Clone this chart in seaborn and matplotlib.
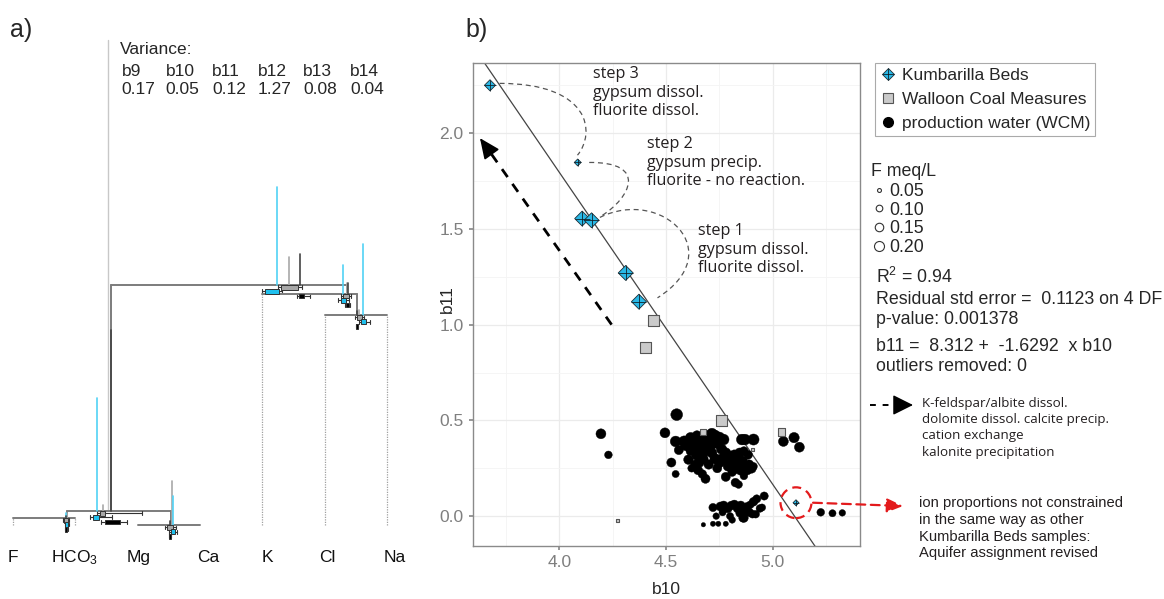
import numpy as np
import pandas as pd
import matplotlib
matplotlib.use("Agg")
import matplotlib.pyplot as plt
import seaborn as sns
from matplotlib.lines import Line2D
from matplotlib.patches import Ellipse, PathPatch
from matplotlib.path import Path

sns.set_theme(style="white")
plt.rcParams["font.family"] = ["Liberation Sans", "DejaVu Sans"]
plt.rcParams["mathtext.fontset"] = "custom"
plt.rcParams["mathtext.rm"] = "Liberation Sans"
plt.rcParams["mathtext.default"] = "regular"

# ---------------- panel a: balance dendrogram ----------------
leaves = ["F", "HCO$_3$", "Mg", "Ca", "K", "Cl", "Na"]
leaf_label_pos = [0.0, 0.98, 2.02, 3.13, 4.08, 5.04, 6.12]
balances = ["b9", "b10", "b11", "b12", "b13", "b14"]
variances = [0.17, 0.05, 0.12, 1.27, 0.08, 0.04]
tree = {"b9": ("b12", "b10"), "b12": ("b14", "b13"), "b14": (0, 1),
        "b13": (2, 3), "b10": (4, "b11"), "b11": (5, 6)}
mean_pos = {"b9": 4.43, "b12": 1.573, "b14": 0.867, "b13": 2.536,
            "b10": 5.361, "b11": 5.522}

groups = ["WCM", "KB", "PW"]
# group boxplots of each balance: (low whisker, q1, median, q3, high whisker)
box_stats = {
    "b9":  {"WCM": (4.254, 4.302, 4.430, 4.575, 4.639), "KB": (3.997, 4.045, 4.157, 4.270, 4.318), "PW": (4.559, 4.591, 4.623, 4.671, 4.767)},
    "b12": {"WCM": (1.348, 1.396, 1.445, 1.477, 2.071), "KB": (1.236, 1.279, 1.332, 1.376, 1.584), "PW": (1.412, 1.477, 1.589, 1.717, 1.830)},
    "b10": {"WCM": (5.265, 5.297, 5.345, 5.393, 5.425), "KB": (5.217, 5.265, 5.305, 5.345, 5.393), "PW": (5.329, 5.345, 5.369, 5.393, 5.409)},
    "b11": {"WCM": (5.490, 5.522, 5.570, 5.602, 5.634), "KB": (5.554, 5.586, 5.618, 5.666, 5.730), "PW": (5.498, 5.506, 5.522, 5.530, 5.538)},
    "b13": {"WCM": (2.440, 2.472, 2.520, 2.568, 2.616), "KB": (2.504, 2.536, 2.568, 2.600, 2.632), "PW": (2.496, 2.504, 2.520, 2.528, 2.536)},
    "b14": {"WCM": (0.803, 0.819, 0.851, 0.883, 0.899), "KB": (0.827, 0.835, 0.851, 0.875, 0.891), "PW": (0.827, 0.835, 0.851, 0.867, 0.875)},
}
# group mean position and group variance of each balance
group_var = {
    "b9":  {"KB": (4.24, 0.55), "WCM": (4.43, 0.153), "PW": (4.61, 0.17)},
    "b12": {"KB": (1.343, 0.635), "WCM": (1.45, 0.03), "PW": (1.58, 1.017)},
    "b10": {"KB": (5.30, 0.163), "WCM": (5.356, 0.062), "PW": (5.37, 0.06)},
    "b11": {"KB": (5.613, 0.40), "WCM": (5.56, 0.03), "PW": (5.52, 0.02)},
    "b13": {"KB": (2.573, 0.163), "WCM": (2.547, 0.247), "PW": (2.52, 0.02)},
    "b14": {"KB": (0.846, 0.03), "WCM": (0.86, 0.03), "PW": (0.851, 0.01)},
}

# ---------------- panel b: b10 vs b11 ----------------
kb_b10 = [3.675, 4.086, 4.107, 4.151, 4.311, 4.373, 5.109]
kb_b11 = [2.25, 1.847, 1.554, 1.545, 1.27, 1.12, 0.07]
kb_F = [0.12, 0.06, 0.20, 0.20, 0.20, 0.20, 0.05]

wcm_b10 = [4.44, 4.404, 4.761, 4.672, 5.04, 4.906, 4.273]
wcm_b11 = [1.02, 0.88, 0.50, 0.44, 0.44, 0.35, -0.025]
wcm_F = [0.20, 0.20, 0.20, 0.09, 0.11, 0.05, 0.05]

pw_b10 = [4.195, 4.23, 4.55, 4.495, 4.545, 4.56, 4.525, 4.545, 4.605, 4.62,
          4.585, 4.595, 4.615, 4.625, 4.635, 4.645, 4.645, 4.655, 4.66, 4.665,
          4.675, 4.68, 4.685, 4.695, 4.705, 4.715, 4.72, 4.73, 4.74, 4.75,
          4.76, 4.77, 4.635, 4.65, 4.67, 4.685, 4.655, 4.675, 4.715, 4.73,
          4.75, 4.765, 4.78, 4.785, 4.79, 4.80, 4.81, 4.82, 4.825, 4.83,
          4.84, 4.845, 4.85, 4.86, 4.87, 4.88, 4.89, 4.90, 4.91, 4.78,
          4.81, 4.825, 4.84, 4.865, 4.855, 4.87, 4.91, 4.885, 4.865, 4.74,
          4.70, 4.615, 5.05, 5.10, 5.125, 5.225, 5.28, 5.326,
          4.72, 4.735, 4.675, 4.72, 4.745, 4.78, 4.755, 4.77, 4.79, 4.805,
          4.82, 4.835, 4.85, 4.865, 4.88, 4.89, 4.895, 4.91, 4.925, 4.94,
          4.96, 4.905, 4.86, 4.80, 4.81, 4.845, 4.765, 4.92, 4.865, 4.95]
pw_b11 = [0.43, 0.32, 0.53, 0.435, 0.39, 0.345, 0.28, 0.22, 0.295, 0.25,
          0.39, 0.37, 0.41, 0.38, 0.35, 0.42, 0.32, 0.39, 0.36, 0.30,
          0.41, 0.34, 0.38, 0.42, 0.36, 0.43, 0.40, 0.42, 0.38, 0.41,
          0.35, 0.40, 0.27, 0.24, 0.22, 0.195, 0.28, 0.30, 0.33, 0.30,
          0.28, 0.30, 0.33, 0.29, 0.26, 0.31, 0.28, 0.32, 0.25, 0.30,
          0.27, 0.33, 0.24, 0.29, 0.26, 0.24, 0.27, 0.25, 0.26, 0.205,
          0.23, 0.175, 0.165, 0.21, 0.40, 0.40, 0.40, 0.32, 0.34, 0.25,
          0.27, 0.34, 0.39, 0.41, 0.36, 0.02, 0.015, 0.017,
          0.045, 0.00, -0.045, -0.04, -0.04, -0.04, 0.05, 0.055, 0.04, 0.055,
          0.06, 0.04, 0.055, 0.03, 0.05, 0.02, 0.06, 0.075, 0.09, 0.04,
          0.105, 0.01, -0.01, 0.00, -0.02, 0.015, 0.02, 0.01, -0.01, 0.045]
pw_F = [0.15, 0.10, 0.20, 0.15, 0.17, 0.13, 0.13, 0.09, 0.14, 0.10,
        0.18, 0.18, 0.16, 0.18, 0.17, 0.15, 0.18, 0.18, 0.18, 0.16,
        0.17, 0.18, 0.16, 0.15, 0.17, 0.18, 0.17, 0.18, 0.16, 0.18,
        0.16, 0.17, 0.12, 0.13, 0.12, 0.13, 0.15, 0.14, 0.15, 0.16,
        0.16, 0.17, 0.16, 0.16, 0.14, 0.17, 0.15, 0.15, 0.16, 0.14,
        0.16, 0.15, 0.15, 0.13, 0.16, 0.14, 0.13, 0.15, 0.10, 0.13,
        0.12, 0.12, 0.10, 0.10, 0.17, 0.17, 0.18, 0.12, 0.12, 0.13,
        0.14, 0.13, 0.15, 0.16, 0.15, 0.10, 0.09, 0.08,
        0.11, 0.08, 0.05, 0.06, 0.06, 0.06, 0.13, 0.13, 0.12, 0.12,
        0.13, 0.12, 0.13, 0.12, 0.11, 0.12, 0.10, 0.12, 0.11, 0.10,
        0.11, 0.10, 0.11, 0.09, 0.08, 0.10, 0.09, 0.10, 0.12, 0.09]

fit_intercept = 8.312
fit_slope = -1.6292
size_levels = [0.05, 0.10, 0.15, 0.20]
stats_lines = ["R$^2$ = 0.94", "Residual std error =  0.1123 on 4 DF",
               "p-value: 0.001378", "b11 =  8.312 +  -1.6292  x b10",
               "outliers removed: 0"]
outlier = (5.109, 0.07)

KB_COL = "#2ab8e6"
WCM_COL = "#cacaca"
BOX_FACE = {"WCM": "#a8a8a8", "KB": "#1fc0ee", "PW": "black"}
LINE_COL = {"WCM": "#a8a8a8", "KB": "#52d2f5", "PW": "#444444"}
BOX_OFF = {"WCM": 0.014, "KB": 0.037, "PW": 0.064}
PW_SIZES = (10, 72)

W, H = 1164, 599
fig = plt.figure(figsize=(W / 100, H / 100), dpi=100)


def fx(px):
    return px / W


def fy(py):
    return 1 - py / H


# ---------------- draw panel a ----------------
axa = fig.add_axes([0, 1 - 580 / H, 420 / W, 550 / H])
axa.set_xlim(-0.209, 6.533)
axa.set_ylim(-0.309, 2.781)
axa.axis("off")

var_of = dict(zip(balances, variances))


def depth(node):
    return max(var_of[c] + depth(c) if isinstance(c, str) else 0 for c in tree[node])


node_h = {}


def place(node, h):
    node_h[node] = h
    for c in tree[node]:
        if isinstance(c, str):
            place(c, h - var_of[c])


place("b9", depth("b9"))


def pos(c):
    return c if not isinstance(c, str) else mean_pos[c]


axa.plot([1.525, 1.525], [0.084, 2.725], color="#c8c8c8", lw=1)

BAR = "#7c7c7c"
for node, (l, r) in tree.items():
    h = node_h[node]
    axa.plot([pos(l), pos(r)], [h, h], color=BAR, lw=1.4, zorder=2)
    for c in (l, r):
        if isinstance(c, str):
            axa.plot([pos(c)] * 2, [node_h[c], h], color=BAR, lw=1.4, zorder=2)
        elif h > 0.001:
            axa.plot([c, c], [0, h], color="#a0a0a0", lw=0.9, ls=(0, (1, 1)), zorder=1)
    for g in groups:
        gp, gv = group_var[node][g]
        axa.plot([gp, gp], [h, h + gv], color=LINE_COL[g], lw=1.2, zorder=3)
    stats = []
    for g in groups:
        lo, q1, med, q3, hi = box_stats[node][g]
        stats.append(dict(whislo=lo, q1=q1, med=med, q3=q3, whishi=hi, fliers=[]))
    bp = axa.bxp(stats, positions=[h - BOX_OFF[g] for g in groups], widths=0.026,
                 orientation="horizontal", patch_artist=True, showfliers=False,
                 manage_ticks=False, capwidths=0.022,
                 whiskerprops=dict(color="#333333", lw=0.8),
                 capprops=dict(color="#333333", lw=0.8),
                 medianprops=dict(color="#222222", lw=0.8))
    for patch, g in zip(bp["boxes"], groups):
        patch.set_facecolor(BOX_FACE[g])
        patch.set_edgecolor("#333333")
        patch.set_linewidth(0.7)
        patch.set_zorder(4)

for xl, name in zip(leaf_label_pos, leaves):
    axa.text(xl, -0.185, name, ha="center", va="center", fontsize=12.5, color="#111111")

fig.text(fx(120), fy(42), "Variance:", fontsize=12.5, va="top", ha="left")
col_x = [121.7, 165.7, 212, 258, 303, 350]
for cx, b, v in zip(col_x, balances, variances):
    fig.text(fx(cx), fy(64), b, fontsize=12.5, va="top", ha="left")
    fig.text(fx(cx), fy(82), f"{v:.2f}", fontsize=12.5, va="top", ha="left")

fig.text(fx(10), fy(30), "a)", fontsize=18, va="center", ha="left")
fig.text(fx(465), fy(30), "b)", fontsize=18, va="center", ha="left")

# ---------------- draw panel b ----------------
ax = fig.add_axes([fx(472.7), fy(546), (860 - 472.7) / W, (546 - 62.7) / H])
ax.set_xlim(3.594, 5.409)
ax.set_ylim(-0.156, 2.368)
ax.set_xticks([4.0, 4.5, 5.0])
ax.set_xticklabels(["4.0", "4.5", "5.0"])
ax.set_yticks([0.0, 0.5, 1.0, 1.5, 2.0])
ax.set_yticklabels(["0.0", "0.5", "1.0", "1.5", "2.0"])
ax.set_xticks([3.75, 4.25, 4.75, 5.25], minor=True)
ax.set_yticks([0.25, 0.75, 1.25, 1.75, 2.25], minor=True)
ax.grid(which="major", color="#ebebeb", lw=0.9)
ax.grid(which="minor", color="#f4f4f4", lw=0.6)
ax.set_axisbelow(True)
for s in ax.spines.values():
    s.set_color("#8a8a8a")
    s.set_linewidth(1)
ax.tick_params(axis="both", which="major", labelsize=12.5, labelcolor="#7f7f7f",
               length=3, color="#8a8a8a", direction="out", bottom=True, left=True)
ax.tick_params(which="minor", length=0)
ax.set_xlabel("b10", fontsize=12.5)
ax.set_ylabel("b11", fontsize=12.5)
ax.xaxis.set_label_coords(0.5, -0.075)
ax.yaxis.set_label_coords(-0.045, 0.51)

xs = np.array(ax.get_xlim())
ax.plot(xs, fit_intercept + fit_slope * xs, color="#444444", lw=0.9, zorder=2)

pw = pd.DataFrame({"b10": pw_b10, "b11": pw_b11, "F": pw_F})
wcm = pd.DataFrame({"b10": wcm_b10, "b11": wcm_b11, "F": wcm_F})
kb = pd.DataFrame({"b10": kb_b10, "b11": kb_b11, "F": kb_F})

sns.scatterplot(data=pw, x="b10", y="b11", size="F", sizes=PW_SIZES, size_norm=(0.05, 0.2),
                color="black", edgecolor="black", linewidth=0.3, legend=False, ax=ax, zorder=3)
sns.scatterplot(data=wcm, x="b10", y="b11", size="F", sizes=(5, 63), size_norm=(0.05, 0.2),
                marker="s", color=WCM_COL, edgecolor="#555555", linewidth=0.8, legend=False,
                ax=ax, zorder=4)
sns.scatterplot(data=kb, x="b10", y="b11", size="F", sizes=(9, 58), size_norm=(0.05, 0.2),
                marker="D", color=KB_COL, edgecolor="#1b2b33", linewidth=0.6, legend=False,
                ax=ax, zorder=5)
plus_s = 2 * (9 + (kb["F"] - 0.05) / 0.15 * (58 - 9))
ax.scatter(kb["b10"], kb["b11"], s=plus_s, marker="+", c="#10222a", linewidths=0.6, zorder=6)
ax.set_xlim(3.594, 5.409)
ax.set_ylim(-0.156, 2.368)

# dashed reaction-path curves
curves = [
    [(3.72, 2.26), (4.15, 2.26), (4.17, 2.00), (4.085, 1.885)],
    [(4.14, 1.847), (4.42, 1.85), (4.33, 1.66), (4.20, 1.57)],
    [(4.19, 1.56), (4.48, 1.72), (4.80, 1.38), (4.46, 1.14)],
]
for pts in curves:
    path = Path(pts, [Path.MOVETO, Path.CURVE4, Path.CURVE4, Path.CURVE4])
    ax.add_patch(PathPatch(path, facecolor="none", edgecolor="#555555", lw=0.9,
                           ls=(0, (4, 3)), zorder=2))

step_txt = [
    (4.159, 2.35, "step 3\ngypsum dissol.\nfluorite dissol."),
    (4.412, 1.985, "step 2\ngypsum precip.\nfluorite - no reaction."),
    (4.651, 1.53, "step 1\ngypsum dissol.\nfluorite dissol."),
]
for x0, y0, t in step_txt:
    ax.text(x0, y0, t, fontsize=11.6, va="top", ha="left", family=["Open Sans", "DejaVu Sans"],
            linespacing=1.22, color="#231f20", zorder=7)

# black dashed arrow
tail = (4.245, 1.00)
tip = (3.628, 1.974)
ax.plot([tail[0], 3.66], [tail[1], 1.925], color="black", lw=2, ls=(0, (3.5, 3)), zorder=3)
ax.annotate("", xy=tip, xytext=(3.665, 1.917),
            arrowprops=dict(arrowstyle="-|>,head_length=0.9,head_width=0.4", color="black",
                            lw=1.2, mutation_scale=14, shrinkA=0, shrinkB=0), zorder=3)

# red circled outlier and arrow
ax.add_patch(Ellipse(outlier, 0.145, 0.161, facecolor="none", edgecolor="#e31a1c",
                     lw=1.6, ls=(0, (4, 2.5)), zorder=6))
ax.annotate("", xy=(903, H - 506), xycoords="figure pixels",
            xytext=(outlier[0] + 0.08, outlier[1]), textcoords="data",
            arrowprops=dict(arrowstyle="-|>,head_length=0.8,head_width=0.35", color="#e31a1c",
                            lw=1.6, ls=(0, (4, 2.5)), mutation_scale=12, shrinkA=0, shrinkB=0),
            annotation_clip=False, zorder=6)

# ---------------- legends and notes ----------------
h_kb = (Line2D([], [], marker="D", ls="", mfc=KB_COL, mec="#1b2b33", mew=0.6, ms=6.2),
        Line2D([], [], marker="+", ls="", color="#10222a", mew=0.6, ms=8.8))
h_wcm = Line2D([], [], marker="s", ls="", mfc=WCM_COL, mec="#555555", mew=0.8, ms=7)
h_pw = Line2D([], [], marker="o", ls="", mfc="black", mec="black", ms=7)
leg = fig.legend([h_kb, h_wcm, h_pw], ["Kumbarilla Beds", "Walloon Coal Measures",
                                       "production water (WCM)"],
                 loc="upper left", bbox_to_anchor=(fx(875), fy(62.7)), frameon=True,
                 fancybox=False, edgecolor="#aaaaaa", framealpha=1, fontsize=12.5,
                 borderpad=0.3, labelspacing=0.5, handlelength=0.9, handletextpad=0.35,
                 borderaxespad=0)
leg.get_frame().set_linewidth(0.8)

size_handles = []
for lv in size_levels:
    area = 8 + (lv - 0.05) / 0.15 * (52 - 8)
    size_handles.append(Line2D([], [], marker="o", ls="", mfc="white", mec="#333333",
                               mew=0.8, ms=np.sqrt(area)))
leg2 = fig.legend(size_handles, [f"{v:.2f}" for v in size_levels], title="F meq/L",
                  loc="upper left", bbox_to_anchor=(fx(871), fy(163)), frameon=False,
                  fontsize=12.8, title_fontsize=12.8, handletextpad=0.15, labelspacing=0.1,
                  handlelength=0.9, borderaxespad=0, borderpad=0)
leg2._legend_box.align = "left"
leg2._legend_box.sep = 2

stat_y = [276.7, 299, 320, 346.7, 366.7]
for yy, t in zip(stat_y, stats_lines):
    fig.text(fx(876), fy(yy), t, fontsize=12.8, va="center", ha="left")

fig.add_artist(Line2D([fx(870), fx(900)], [fy(405), fy(405)], color="black", lw=1.4,
                      ls=(0, (3, 3.5))))
ax.annotate("", xy=(913, H - 405), xycoords="figure pixels", xytext=(898, H - 405),
            textcoords="figure pixels",
            arrowprops=dict(arrowstyle="-|>,head_length=0.9,head_width=0.45", color="black",
                            lw=1, mutation_scale=14, shrinkA=0, shrinkB=0),
            annotation_clip=False)
fig.text(fx(921.7), fy(397), "K-feldspar/albite dissol.\ndolomite dissol. calcite precip.\n"
         "cation exchange\nkalonite precipitation", fontsize=9.6, va="top", ha="left",
         family=["Open Sans", "DejaVu Sans"], linespacing=1.32, color="#231f20")
fig.text(fx(919), fy(496), "ion proportions not constrained\nin the same way as other\n"
         "Kumbarilla Beds samples:\nAquifer assignment revised", fontsize=10.6,
         va="top", ha="left", linespacing=1.25, color="#231f20")

fig.savefig("out.png", dpi=100)
